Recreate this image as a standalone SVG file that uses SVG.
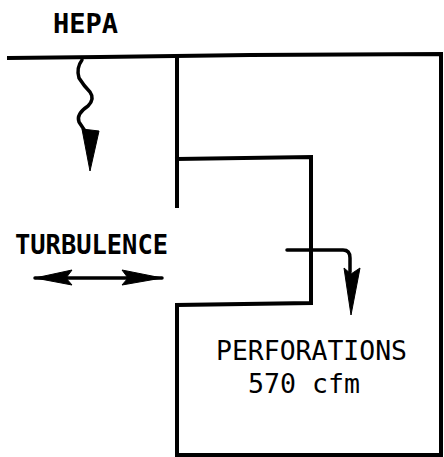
<svg xmlns="http://www.w3.org/2000/svg" width="444" height="457" viewBox="0 0 444 457">
<style>
.w{fill:none;stroke:#000;stroke-width:4;stroke-linecap:square;stroke-linejoin:miter}
.a{fill:none;stroke:#000;stroke-width:3.5;stroke-linecap:round;stroke-linejoin:round}
.h{fill:#000;stroke:#000;stroke-width:1}
.t{font-family:"DejaVu Sans Mono","Liberation Mono",monospace;font-size:26px;fill:#000}
.b{font-weight:bold}
</style>
<rect width="444" height="457" fill="#fff"/>
<g id="walls">
<path class="w" d="M9 58 L100 57 L250 55 L441 54 L441 456"/>
<path class="w" d="M177 58 L177 206"/>
<path class="w" d="M177 159 L311 157 L311 303 L177 305 L177 455 L441 455"/>
</g>
<g id="hepa">
<text class="t b" x="53" y="33" textLength="65" lengthAdjust="spacingAndGlyphs">HEPA</text>
</g>
<g id="turbulence">
<text class="t b" x="15" y="254" textLength="153" lengthAdjust="spacingAndGlyphs">TURBULENCE</text>
</g>
<g id="perforations">
<text class="t" x="216" y="360" textLength="191" lengthAdjust="spacingAndGlyphs">PERFORATIONS</text>
<text class="t" x="248" y="393" textLength="112" lengthAdjust="spacingAndGlyphs">570 cfm</text>
</g>
<g id="connectors">
<path class="a" d="M82 60 Q76 68 79 78 Q84 86 90 92 Q95 99 88 106 Q76 114 79 122 L85 131"/>
<path class="h" d="M82 129 L99 131 L90 171 Z"/>
<path class="a" d="M35 278 L162 278" stroke-width="2"/>
<path class="h" d="M35 278 L72 270 L66 278 L72 285 Z"/>
<path class="h" d="M162 278 L122 270 L128 278 L122 285 Z"/>
<path class="a" d="M287 250 L343 250 Q350 250 350 258 L350 272"/>
<path class="h" d="M344 268 L351 274 L360 268 L351 315 Z"/>
</g>
</svg>
